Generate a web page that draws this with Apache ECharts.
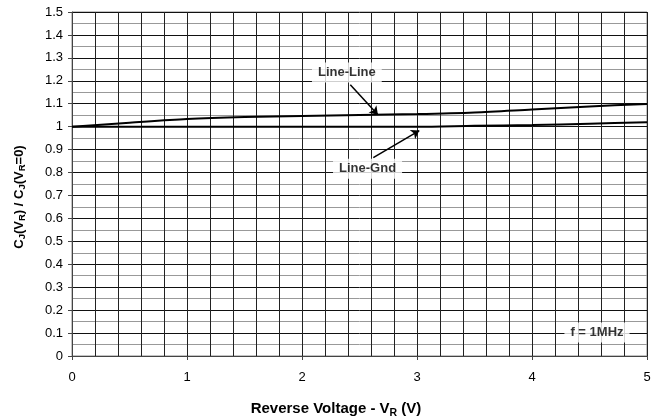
<!DOCTYPE html>
<html>
<head>
<meta charset="utf-8">
<script src="https://cdn.jsdelivr.net/npm/echarts@6/dist/echarts.min.js"></script>
<style>html,body{margin:0;padding:0;background:#fff}#c{width:658px;height:419px}</style>
</head>
<body>
<div id="c"></div>
<script>
// Data
const voltage = [0, 0.5, 1, 1.5, 2, 2.5, 3, 3.5, 4, 4.5, 5];
const lineLine = [1.0, 1.017, 1.033, 1.042, 1.047, 1.051, 1.055, 1.062, 1.075, 1.088, 1.099];
const lineGnd = [1.0, 1.0, 1.0, 1.0, 1.0, 1.0, 1.0, 1.004, 1.007, 1.013, 1.019];
const xTicks = [0, 1, 2, 3, 4, 5];
const yTicks = [0, 0.1, 0.2, 0.3, 0.4, 0.5, 0.6, 0.7, 0.8, 0.9, 1, 1.1, 1.2, 1.3, 1.4, 1.5];
const annotations = [
  { text: 'Line-Line', at: [2.39, 1.236], from: [2.42, 1.183], to: [2.66, 1.052] },
  { text: 'Line-Gnd', at: [2.57, 0.817], from: [2.62, 0.865], to: [3.02, 0.983] },
  { text: 'f = 1MHz', at: [4.565, 0.103] }
];

const font = 'Liberation Sans, Arial, sans-serif';
const chart = echarts.init(document.getElementById('c'));

const arrowData = annotations.filter(a => a.from).map(a => [
  { coord: a.from, symbol: 'none' },
  { coord: a.to, symbol: 'arrow' }
]);

chart.setOption({
  animation: false,
  backgroundColor: '#fff',
  grid: { left: 72, right: 11, top: 12, bottom: 63, show: true, borderColor: '#888', borderWidth: 1, backgroundColor: 'transparent' },
  xAxis: {
    type: 'value', min: 0, max: 5, interval: 1,
    axisLine: { show: true, lineStyle: { color: '#444', width: 1 } },
    axisTick: { show: true, length: 4, lineStyle: { color: '#444' } },
    axisLabel: { fontFamily: font, fontSize: 13, color: '#000', margin: 15,
      formatter: v => xTicks.includes(v) ? String(v) : '' },
    splitLine: { show: true, lineStyle: { color: '#222', width: 1 } },
    minorTick: { show: false, splitNumber: 5 },
    minorSplitLine: { show: true, lineStyle: { color: '#222', width: 1 } }
  },
  yAxis: {
    type: 'value', min: 0, max: 1.5, interval: 0.1,
    axisLine: { show: true, lineStyle: { color: '#444', width: 1 } },
    axisTick: { show: true, length: 4, lineStyle: { color: '#444' } },
    axisLabel: { fontFamily: font, fontSize: 13, color: '#000', margin: 9,
      formatter: v => { const t = yTicks.find(y => Math.abs(y - v) < 1e-9); return t === undefined ? '' : String(t); } },
    splitLine: { show: true, lineStyle: { color: '#111', width: 1 } },
    minorTick: { show: false, splitNumber: 2 },
    minorSplitLine: { show: true, lineStyle: { color: '#999', width: 1 } }
  },
  graphic: [{
    type: 'text', x: 19, y: 197, rotation: Math.PI / 2,
    style: {
      text: '{n|C}{s|J}{n|(V}{s|R}{n|) / C}{s|J}{n|(V}{s|R}{n|=0)}',
      align: 'center', verticalAlign: 'middle',
      rich: {
        n: { fontFamily: font, fontWeight: 'bold', fontSize: 13, fill: '#000', lineHeight: 17 },
        s: { fontFamily: font, fontWeight: 'bold', fontSize: 9.5, fill: '#000', lineHeight: 17, verticalAlign: 'bottom', padding: [5, 0, 0, 0] }
      }
    }
  }, {
    type: 'text', x: 336, y: 409,
    style: {
      text: '{n|Reverse Voltage - V}{s|R}{n| (V)}',
      align: 'center', verticalAlign: 'middle',
      rich: {
        n: { fontFamily: font, fontWeight: 'bold', fontSize: 15, fill: '#000', lineHeight: 19 },
        s: { fontFamily: font, fontWeight: 'bold', fontSize: 10.5, fill: '#000', lineHeight: 19, verticalAlign: 'bottom', padding: [5, 0, 0, 0] }
      }
    }
  }],
  series: [
    {
      name: 'Line-Line', type: 'line', data: voltage.map((v, i) => [v, lineLine[i]]),
      showSymbol: false, smooth: 0.3, lineStyle: { color: '#000', width: 2 }, z: 5,
      markLine: {
        silent: true, symbolSize: 8,
        label: { show: false },
        lineStyle: { color: '#000', width: 1.5, type: 'solid' },
        data: arrowData
      }
    },
    {
      name: 'Line-Gnd', type: 'line', data: voltage.map((v, i) => [v, lineGnd[i]]),
      showSymbol: false, smooth: 0.3, lineStyle: { color: '#000', width: 2 }, z: 5
    },
    {
      type: 'scatter', symbolSize: 0, z: 10,
      data: annotations.map(a => ({ value: a.at, name: a.text })),
      label: {
        show: true, position: 'inside', formatter: p => p.name,
        fontFamily: font, fontWeight: 'bold', fontSize: 13, color: '#000',
        backgroundColor: '#fff', padding: [4, 6, 3, 6]
      }
    }
  ]
});
</script>
</body>
</html>
